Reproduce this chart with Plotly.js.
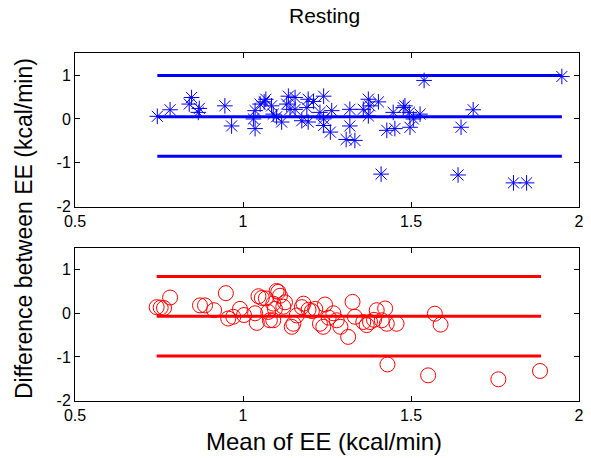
<!DOCTYPE html>
<html><head><meta charset="utf-8">
<script src="https://cdn.plot.ly/plotly-3.0.1.min.js"></script>
<style>html,body{margin:0;padding:0;background:#fff}#chart{width:591px;height:458px}</style>
</head><body><div id="chart"></div>
<script>
// Top panel (asterisks)
var topX = [0.745,0.783,0.847,0.840,0.870,0.867,0.946,0.966,1.036,1.031,
            1.036,1.051,1.063,1.068,1.090,1.115,1.135,1.155,1.130,1.140,
            1.155,1.194,1.190,1.175,1.194,1.240,1.229,1.240,1.264,1.240,
            1.260,1.318,1.318,1.307,1.333,1.358,1.373,1.378,1.403,1.373,
            1.428,1.452,1.477,1.482,1.495,1.527,1.497,1.447,1.507,1.539,
            1.949,1.685,1.649,1.411,1.640,1.805,1.844,1.085,1.100,1.210];
var topY = [0.06,0.21,0.49,0.34,0.24,0.15,0.30,-0.16,0.19,0.00,
            -0.22,0.34,0.39,0.45,0.11,-0.07,0.52,0.49,0.34,0.22,
            0.22,0.45,0.26,-0.04,-0.07,0.52,0.15,0.00,0.19,-0.15,
            -0.30,0.22,-0.16,-0.47,-0.49,0.22,0.45,0.30,0.39,0.07,
            -0.26,-0.22,0.26,0.30,0.15,0.11,-0.19,0.15,0.00,0.88,
            0.97,0.21,-0.19,-1.26,-1.28,-1.46,-1.46,0.30,0.05,0.40];
var topLineX = [0.745, 1.949];
var topLimits = [0.99, 0.05, -0.85];

// Bottom panel (circles)
var botX = [0.743,0.755,0.765,0.783,0.872,0.887,0.914,0.949,0.956,0.971,
            0.991,1.003,1.041,1.046,1.068,1.056,1.075,1.080,1.090,1.105,
            1.100,1.090,1.095,1.110,1.120,1.145,1.150,1.175,1.180,1.195,
            1.205,1.229,1.244,1.239,1.269,1.279,1.290,1.313,1.326,1.333,
            1.358,1.368,1.378,1.398,1.423,1.413,1.428,1.457,1.571,1.588,
            1.430,1.551,1.760,1.884,1.160,1.215,1.036,1.125,1.255,1.390];
var botY = [0.14,0.13,0.12,0.36,0.18,0.18,0.07,0.46,-0.12,-0.08,
            0.10,-0.04,-0.22,0.39,0.34,0.35,0.03,-0.16,0.22,0.49,
            0.51,-0.16,0.10,0.40,0.15,-0.31,-0.24,0.14,0.22,0.08,
            0.05,-0.24,0.20,-0.31,0.00,-0.16,-0.31,-0.54,0.26,-0.08,
            -0.20,-0.27,-0.20,0.07,0.11,-0.16,-0.24,-0.24,-0.01,-0.26,
            -1.17,-1.42,-1.51,-1.32,-0.05,0.10,0.00,0.25,-0.10,-0.15];
var botLineX = [0.743, 1.887];
var botLimits = [0.84, -0.07, -0.98];

var xTicks = [0.5, 1, 1.5, 2];
var xTickText = ['0.5', '1', '1.5', '2'];
var yTicks = [-2, -1, 0, 1];
var yTickText = ['-2', '-1', '0', '1'];

var blue = '#0000ff', red = '#ff0000';
var traces = [];
topLimits.forEach(function(v){
  traces.push({x: topLineX, y: [v, v], xaxis: 'x', yaxis: 'y', mode: 'lines',
    line: {color: blue, width: 3}, hoverinfo: 'skip'});
});
traces.push({x: topX, y: topY, xaxis: 'x', yaxis: 'y', mode: 'markers',
  marker: {symbol: 'asterisk-open', size: 13, color: blue, line: {color: blue, width: 1}}});
botLimits.forEach(function(v){
  traces.push({x: botLineX, y: [v, v], xaxis: 'x2', yaxis: 'y2', mode: 'lines',
    line: {color: red, width: 3}, hoverinfo: 'skip'});
});
traces.push({x: botX, y: botY, xaxis: 'x2', yaxis: 'y2', mode: 'markers',
  marker: {symbol: 'circle-open', size: 15, color: red, line: {color: red, width: 1}}});

var fam = 'Liberation Sans, Arial, sans-serif';
var tickFont = {family: fam, size: 16, color: '#000'};
function xa(anchor){
  return {domain: [75/591, 579/591], range: [0.5, 2], anchor: anchor,
    tickvals: xTicks, ticktext: xTickText, ticks: 'inside', ticklen: 5, tickcolor: '#000',
    showline: true, linecolor: '#000', linewidth: 1, mirror: 'ticks', showgrid: false,
    zeroline: false, tickfont: tickFont, fixedrange: true};
}
function ya(anchor, dom){
  return {domain: dom, range: [-2, 1.5], anchor: anchor,
    tickvals: yTicks, ticktext: yTickText, ticks: 'inside', ticklen: 5, tickcolor: '#000',
    showline: true, linecolor: '#000', linewidth: 1, mirror: 'ticks', showgrid: false,
    zeroline: false, tickfont: tickFont, fixedrange: true};
}
var layout = {
  width: 591, height: 458, showlegend: false,
  margin: {l: 0, r: 0, t: 0, b: 0},
  paper_bgcolor: '#fff', plot_bgcolor: '#fff',
  xaxis: xa('y'), yaxis: ya('x', [1 - 206.5/458, 1 - 53.3/458]),
  xaxis2: xa('y2'), yaxis2: ya('x2', [1 - 400.7/458, 1 - 247.7/458]),
  annotations: [
    {text: 'Resting', xref: 'paper', yref: 'paper', x: 325/591, y: 1 - 16/458,
     showarrow: false, xanchor: 'center', yanchor: 'middle',
     font: {family: fam, size: 21, color: '#000'}},
    {text: 'Mean of EE (kcal/min)', xref: 'paper', yref: 'paper', x: 324/591, y: 1 - 441/458,
     showarrow: false, xanchor: 'center', yanchor: 'middle',
     font: {family: fam, size: 24, color: '#000'}},
    {text: 'Difference between EE (kcal/min)', xref: 'paper', yref: 'paper', x: 24/591, y: 1 - 229/458,
     showarrow: false, xanchor: 'center', yanchor: 'middle', textangle: -90,
     font: {family: fam, size: 23, color: '#000'}}
  ]
};
Plotly.newPlot('chart', traces, layout, {displayModeBar: false, staticPlot: true});
</script>
</body></html>
